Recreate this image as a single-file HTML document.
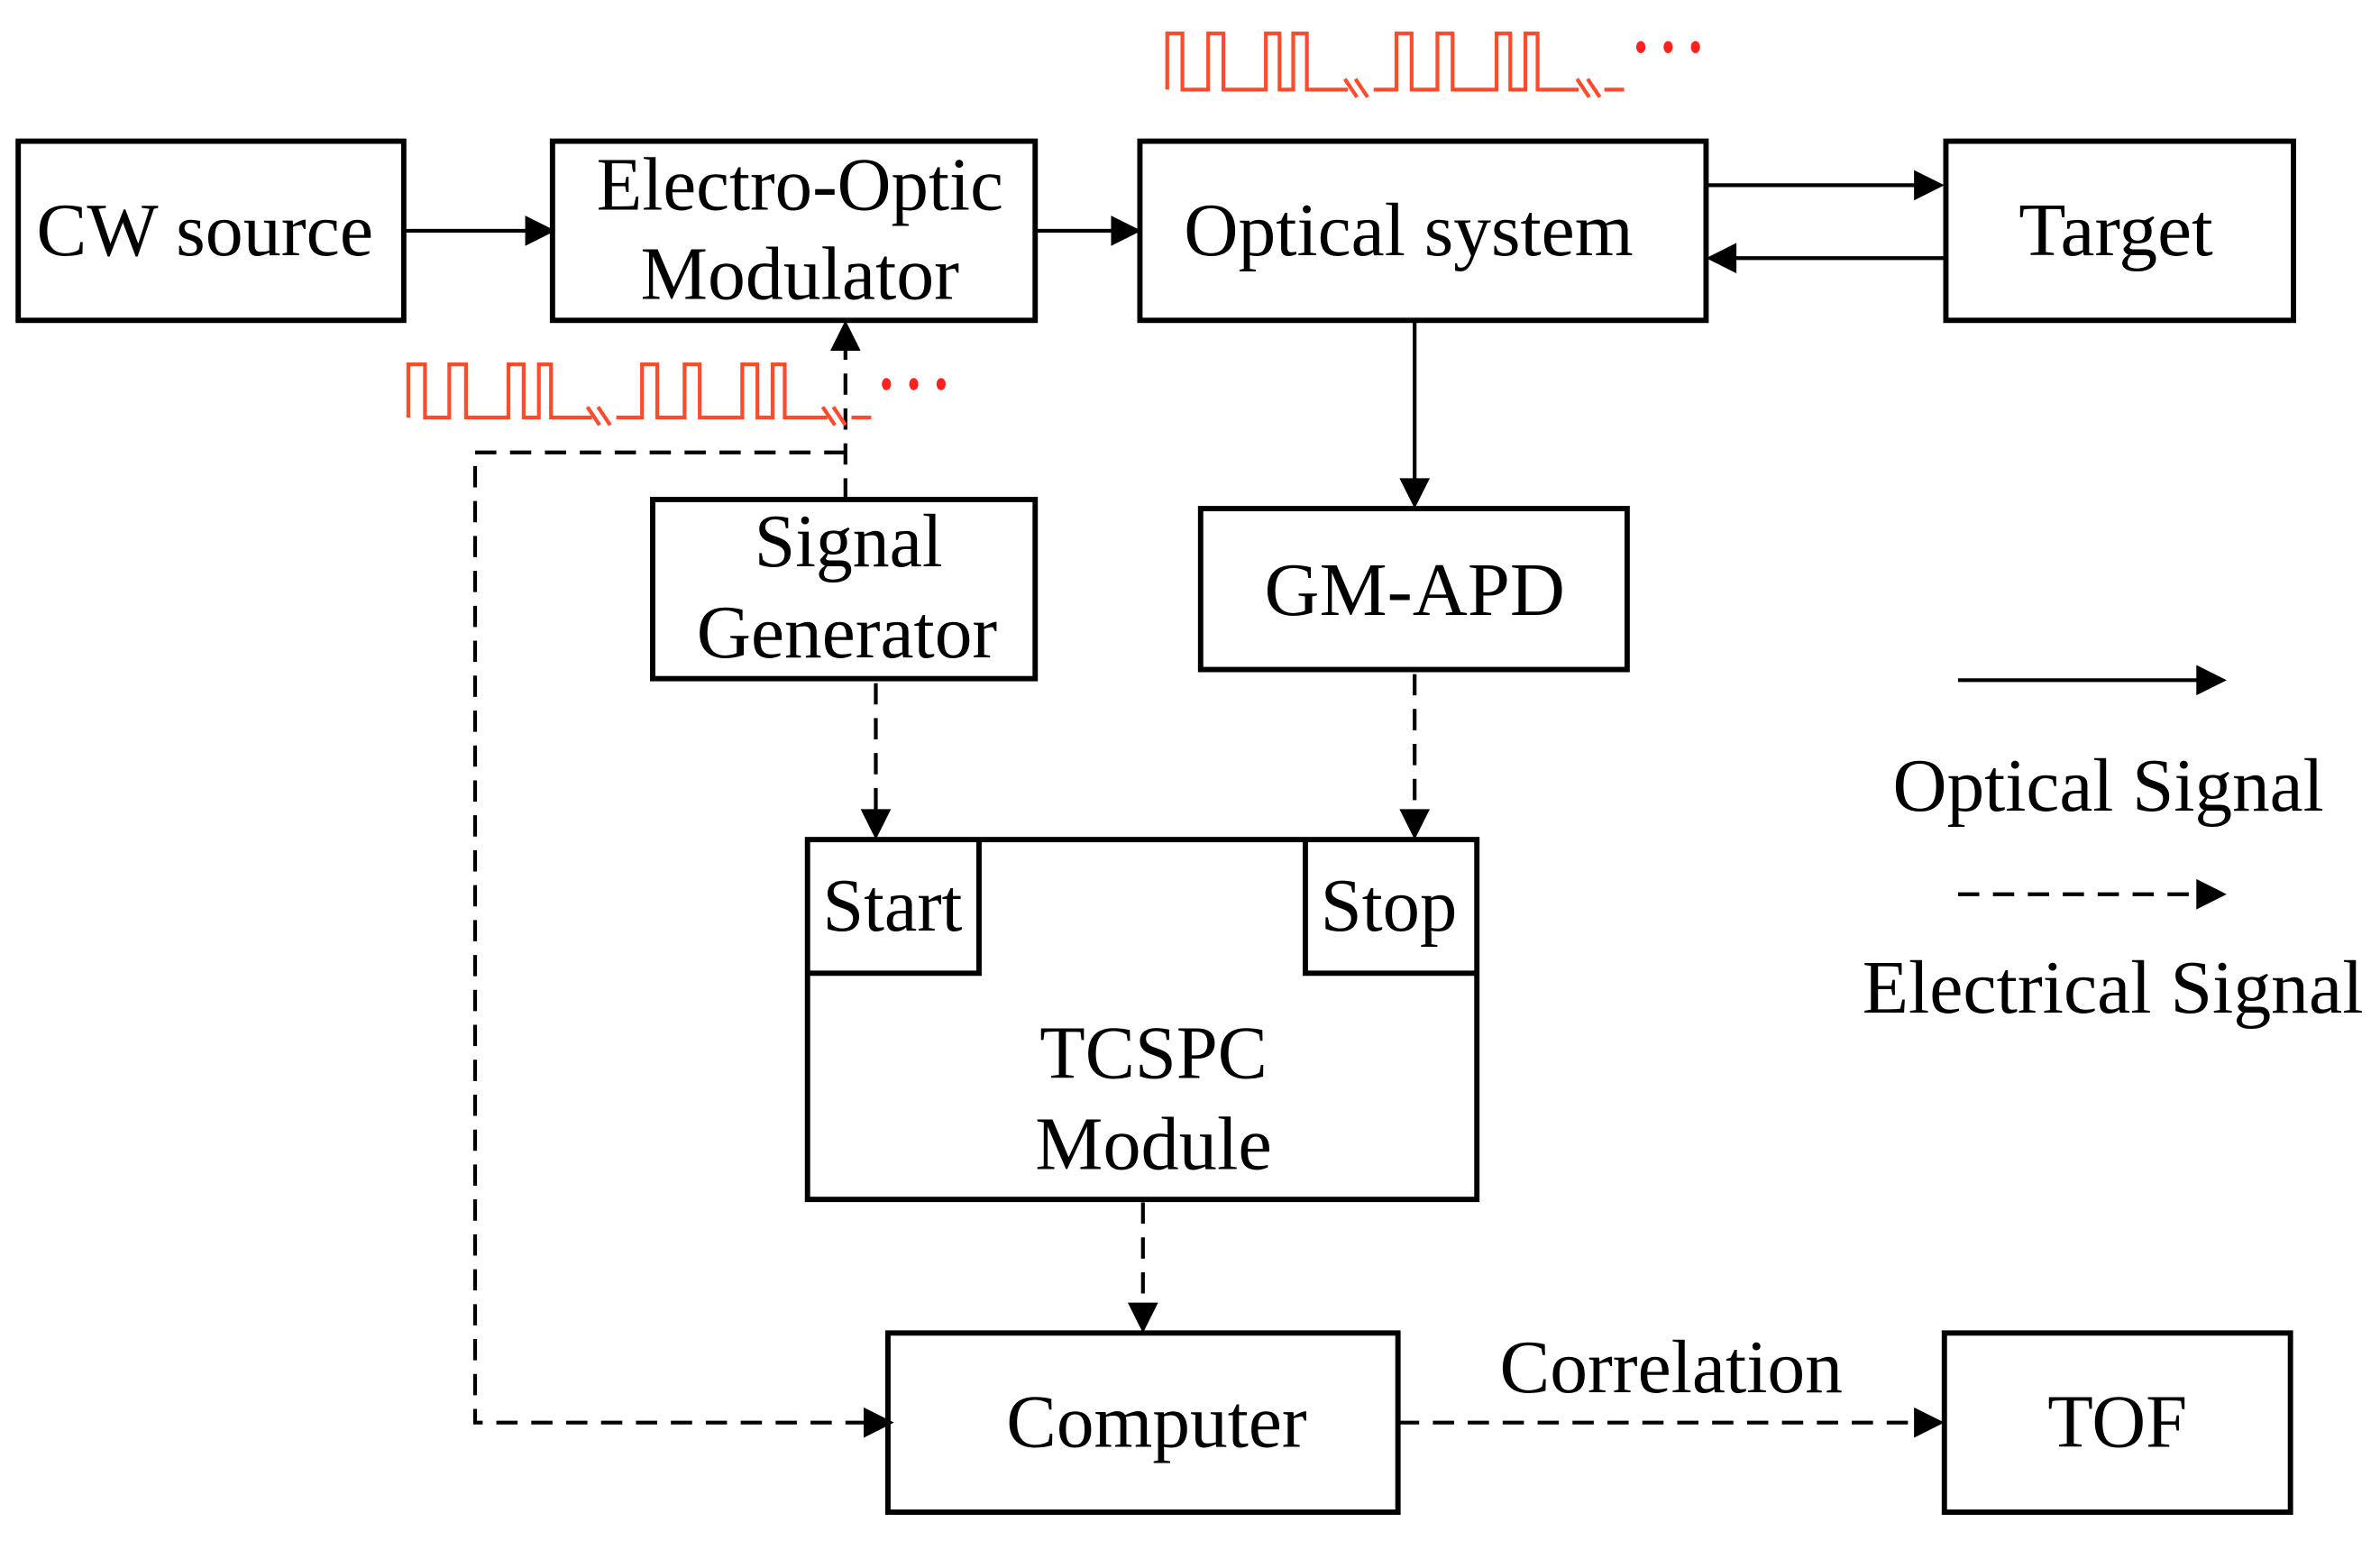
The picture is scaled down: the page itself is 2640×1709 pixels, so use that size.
<!DOCTYPE html>
<html><head><meta charset="utf-8"><style>
html,body{margin:0;padding:0;background:#fff;}
svg{display:block;}
text{font-family:"Liberation Serif",serif;fill:#000;text-anchor:middle;}
</style></head><body>
<svg width="2640" height="1709" viewBox="0 0 1568 1015" preserveAspectRatio="none" xmlns="http://www.w3.org/2000/svg">
<g fill="none" stroke="#000" stroke-width="3.5">
<rect x="12" y="93" width="254" height="118"/>
<rect x="364" y="93" width="318" height="118"/>
<rect x="751" y="93" width="373" height="118"/>
<rect x="1282" y="93" width="229" height="118"/>
<rect x="430" y="329" width="252" height="118"/>
<rect x="791" y="335" width="281" height="106"/>
<rect x="532" y="553" width="441" height="237"/>
<path d="M532 641 H645 V553 M973 641 H860 V553"/>
<rect x="585" y="878" width="336" height="118"/>
<rect x="1281" y="878" width="228" height="118"/>
</g>
<g stroke="#000" stroke-width="2.5" fill="none">
<path d="M266 152 H350"/>
<path d="M682 152 H737"/>
<path d="M1124 122 H1266"/>
<path d="M1282 170 H1140"/>
<path d="M932 211 V320"/>
<path d="M1290 448 H1452"/>
</g>
<g stroke="#000" stroke-width="2.5" fill="none" stroke-dasharray="14,9">
<path d="M557 329 V226"/>
<path d="M557 298 H313 V937 H572"/>
<path d="M577 450 V538"/>
<path d="M932 444 V538"/>
<path d="M753 792 V863"/>
<path d="M921 937 H1266"/>
<path d="M1290 589 H1452"/>
</g>
<g fill="#000">
<path d="M366 152 l-20 -10 v20z"/>
<path d="M752 152 l-20 -10 v20z"/>
<path d="M1281 122 l-20 -10 v20z"/>
<path d="M1124 170 l20 -10 v20z"/>
<path d="M932 335 l-10 -20 h20z"/>
<path d="M557 211 l-10 20 h20z"/>
<path d="M577 553 l-10 -20 h20z"/>
<path d="M932 553 l-10 -20 h20z"/>
<path d="M753 878 l-10 -20 h20z"/>
<path d="M589 937 l-20 -10 v20z"/>
<path d="M1281 937 l-20 -10 v20z"/>
<path d="M1467 448 l-20 -10 v20z"/>
<path d="M1467 589 l-20 -10 v20z"/>
</g>
<g stroke="#ff4b2b" stroke-width="2.5" fill="none">
<path d="M769 59 V22 H779 V59 H796 V22 H806 V59 H834 V22 H843 V59 H852 V22 H861 V59 H888 M905 59 H920 V22 H930 V59 H947 V22 H957 V59 H986 V22 H995 V59 H1005 V22 H1013 V59 H1040 M1057 59 H1070"/>
<path d="M886 52 l8 12 M893 52 l8 12 M1039 52 l8 12 M1046 52 l8 12"/>
<path d="M269 275 V240 H280 V275 H296 V240 H307 V275 H335 V240 H345 V275 H355 V240 H363 V275 H390 M406 275 H423 V240 H433 V275 H451 V240 H461 V275 H489 V240 H499 V275 H509 V240 H517 V275 H545 M561 275 H574"/>
<path d="M387 268 l8 12 M394 268 l8 12 M542 268 l8 12 M549 268 l8 12"/>
</g>
<g fill="#ff2020">
<ellipse cx="1081" cy="31" rx="3" ry="4"/><ellipse cx="1099" cy="31" rx="3" ry="4"/><ellipse cx="1117" cy="31" rx="3" ry="4"/>
<ellipse cx="584" cy="253" rx="3" ry="4"/><ellipse cx="602" cy="253" rx="3" ry="4"/><ellipse cx="620" cy="253" rx="3" ry="4"/>
</g>
<g font-size="50">
<text x="135" y="168" textLength="222" lengthAdjust="spacingAndGlyphs">CW source</text>
<text x="527" y="138" textLength="268" lengthAdjust="spacingAndGlyphs">Electro-Optic</text>
<text x="527" y="197" textLength="210" lengthAdjust="spacingAndGlyphs">Modulator</text>
<text x="928" y="168" textLength="296" lengthAdjust="spacingAndGlyphs">Optical system</text>
<text x="1394" y="168" textLength="128" lengthAdjust="spacingAndGlyphs">Target</text>
<text x="559" y="373" textLength="124" lengthAdjust="spacingAndGlyphs">Signal</text>
<text x="558" y="433" textLength="198" lengthAdjust="spacingAndGlyphs">Generator</text>
<text x="932" y="405" textLength="198" lengthAdjust="spacingAndGlyphs">GM-APD</text>
<text x="588" y="613" textLength="92" lengthAdjust="spacingAndGlyphs">Start</text>
<text x="915" y="613" textLength="90" lengthAdjust="spacingAndGlyphs">Stop</text>
<text x="760" y="710" textLength="150" lengthAdjust="spacingAndGlyphs">TCSPC</text>
<text x="760" y="770" textLength="156" lengthAdjust="spacingAndGlyphs">Module</text>
<text x="762" y="953" textLength="198" lengthAdjust="spacingAndGlyphs">Computer</text>
<text x="1395" y="953" textLength="92" lengthAdjust="spacingAndGlyphs">TOF</text>
<text x="1101" y="917" textLength="226" lengthAdjust="spacingAndGlyphs">Correlation</text>
<text x="1389" y="534" textLength="284" lengthAdjust="spacingAndGlyphs">Optical Signal</text>
<text x="1392" y="667" textLength="330" lengthAdjust="spacingAndGlyphs">Electrical Signal</text>
</g>
</svg>
</body></html>
